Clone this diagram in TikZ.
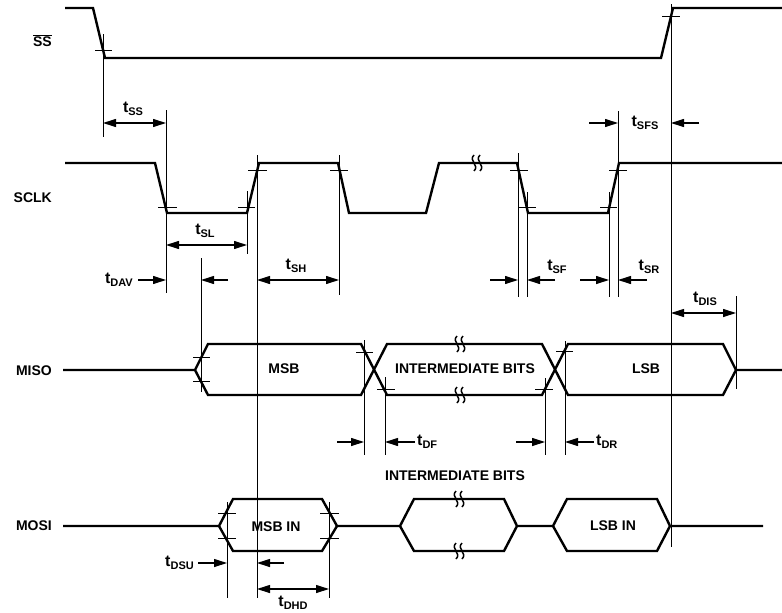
\documentclass[tikz,border=0pt]{standalone}
\usepackage{fontspec}
\setmainfont{Liberation Sans}
\usepackage{tikz}
\usetikzlibrary{arrows.meta}
\def\brk(#1,#2){\draw[line width=1.5pt] ({#1-3},{#2-8}) .. controls ({#1-9},{#2-2}) and ({#1+3},{#2+2}) .. ({#1-3},{#2+8}); \draw[line width=1.5pt] ({#1+3},{#2-8}) .. controls ({#1-3},{#2-2}) and ({#1+9},{#2+2}) .. ({#1+3},{#2+8});}
\def\tsub#1{{\fontsize{16}{16}\selectfont t}\raisebox{-3.5pt}{\fontsize{11}{11}\selectfont #1}}
\tikzset{
  wave/.style={line width=2.4pt, line join=miter},
  reff/.style={line width=0.8pt},
  tck/.style={line width=0.8pt},
  dimr/.style={line width=1.1pt, -{Triangle[length=13pt,width=8pt]}},
  dimlr/.style={line width=1.1pt, {Triangle[length=13pt,width=8pt]}-{Triangle[length=13pt,width=8pt]}},
  sig/.style={font=\fontsize{14}{16}\selectfont\bfseries, anchor=east, inner sep=0pt},
  txt/.style={font=\fontsize{14}{16}\selectfont\bfseries, inner sep=0pt},
  tlab/.style={font=\bfseries, inner sep=0pt}
}

\begin{document}
\begin{tikzpicture}[x=1pt, y=-1pt]
			%%%%% START %%%%%
			\useasboundingbox (0,0) rectangle (782,613);
			
			% signal names
			\node[sig] (ss) at (52,41) {$\overline{\hbox{SS}}$};
			\node[sig] (sclk) at (52,198) {SCLK};
			\node[sig] (miso) at (52,371) {MISO};
			\node[sig] (mosi) at (52,526) {MOSI};
			
			% SS
			\draw[wave] (65,8) -- (93,8) -- (105,58) -- (661,58) -- (673,8) -- (782,8);
			\draw[tck] (95,50) -- (112,50);
			\draw[tck] (662,16) -- (680,16);
			
			% SCLK
			\draw[wave] (65,163) -- (155,163) -- (167,213) -- (247,213) -- (259,163) -- (338,163) -- (349,213) -- (426,213) -- (439,163) -- (517,163) -- (528,213) -- (608,213) -- (619,163) -- (782,163);
			\brk(477,163)
			\draw[tck] (158,207) -- (177,207);
			\draw[tck] (238,207) -- (255,207);
			\draw[tck] (248,170) -- (267,170);
			\draw[tck] (330,170) -- (348,170);
			\draw[tck] (510,170) -- (528,170);
			\draw[tck] (518,207) -- (536,207);
			\draw[tck] (600,207) -- (617,207);
			\draw[tck] (609,170) -- (627,170);
			
			% MISO
			\draw[wave] (63,370) -- (195,370) -- (208,344) -- (361,344) -- (387,395) -- (542,395) -- (568,344) -- (723,344) -- (736,370) -- (782,370);
			\draw[wave] (195,370) -- (208,395) -- (361,395) -- (387,344) -- (542,344) -- (568,395) -- (723,395) -- (736,370);
			\brk(460,344)
			\brk(460,395)
			\draw[tck] (193,357) -- (210,357);
			\draw[tck] (193,381) -- (210,381);
			\draw[tck] (356,352) -- (373,352);
			\draw[tck] (377,389) -- (395,389);
			\draw[tck] (535,389) -- (553,389);
			\draw[tck] (556,351) -- (573,351);
			\node[txt] (msb) at (284,369) {MSB};
			\node[txt] (midbits) at (465,369) {INTERMEDIATE BITS};
			\node[txt] (lsb) at (646,369) {LSB};
			
			% MOSI
			\draw[wave] (63,526) -- (219,526) -- (233,499) -- (322,499) -- (337,526) -- (400,526) -- (414,499) -- (504,499) -- (517,526) -- (553,526) -- (567,499) -- (657,499) -- (670,526) -- (763,526);
			\draw[wave] (219,526) -- (233,551) -- (322,551) -- (337,526);
			\draw[wave] (400,526) -- (414,551) -- (504,551) -- (517,526);
			\draw[wave] (553,526) -- (567,551) -- (657,551) -- (670,526);
			\brk(459,499)
			\brk(459,551)
			\draw[tck] (218,513) -- (236,513);
			\draw[tck] (218,538) -- (236,538);
			\draw[tck] (320,513) -- (339,513);
			\draw[tck] (320,538) -- (339,538);
			\node[txt] (midlab) at (455,476) {INTERMEDIATE BITS};
			\node[txt] (msbin) at (276,527) {MSB IN};
			\node[txt] (lsbin) at (613,526) {LSB IN};
			
			% reference lines
			\draw[reff] (103,34) -- (103,137);
			\draw[reff] (671,4) -- (671,547);
			\draw[reff] (166,110) -- (166,293);
			\draw[reff] (247,191) -- (247,254);
			\draw[reff] (257,155) -- (257,598);
			\draw[reff] (339,155) -- (339,295);
			\draw[reff] (518,153) -- (518,297);
			\draw[reff] (527,192) -- (527,297);
			\draw[reff] (609,192) -- (609,297);
			\draw[reff] (618,111) -- (618,297);
			\draw[reff] (201,258) -- (201,392);
			\draw[reff] (364,340) -- (364,455);
			\draw[reff] (385,377) -- (385,455);
			\draw[reff] (545,378) -- (545,455);
			\draw[reff] (565,341) -- (565,455);
			\draw[reff] (736,296) -- (736,389);
			\draw[reff] (227,502) -- (227,598);
			\draw[reff] (329,502) -- (329,598);
			
			% timings
			\draw[dimlr] (103,123) -- (166,123);
			\node[tlab] (tss) at (133,109) {\tsub{SS}};
			\draw[dimr] (589,123) -- (618,123);
			\draw[dimr] (699,123) -- (671,123);
			\node[tlab] (tsfs) at (645,123) {\tsub{SFS}};
			\draw[dimlr] (166,245) -- (247,245);
			\node[tlab] (tsl) at (205,231) {\tsub{SL}};
			\draw[dimr] (138,280) -- (166,280);
			\draw[dimr] (228,280) -- (201,280);
			\node[tlab, anchor=east] (tdav) at (133,280) {\tsub{DAV}};
			\draw[dimlr] (257,280) -- (339,280);
			\node[tlab] (tsh) at (296,266) {\tsub{SH}};
			\draw[dimr] (490,280) -- (518,280);
			\draw[dimr] (555,280) -- (527,280);
			\node[tlab] (tsf) at (557,267) {\tsub{SF}};
			\draw[dimr] (580,280) -- (609,280);
			\draw[dimr] (647,280) -- (618,280);
			\node[tlab] (tsr) at (649,267) {\tsub{SR}};
			\draw[dimlr] (671,313) -- (736,313);
			\node[tlab] (tdis) at (705,299) {\tsub{DIS}};
			\draw[dimr] (337,442) -- (364,442);
			\draw[dimr] (415,442) -- (385,442);
			\node[tlab, anchor=west] (tdf) at (417,442) {\tsub{DF}};
			\draw[dimr] (516,442) -- (545,442);
			\draw[dimr] (594,442) -- (565,442);
			\node[tlab, anchor=west] (tdr) at (596,442) {\tsub{DR}};
			\draw[dimr] (198,563) -- (227,563);
			\draw[dimr] (284,563) -- (257,563);
			\node[tlab, anchor=east] (tdsu) at (194,563) {\tsub{DSU}};
			\draw[dimlr] (257,589) -- (329,589);
			\node[tlab] (tdhd) at (293,603) {\tsub{DHD}};
			
			%%%%% END %%%%%
		\end{tikzpicture}
\end{document}
